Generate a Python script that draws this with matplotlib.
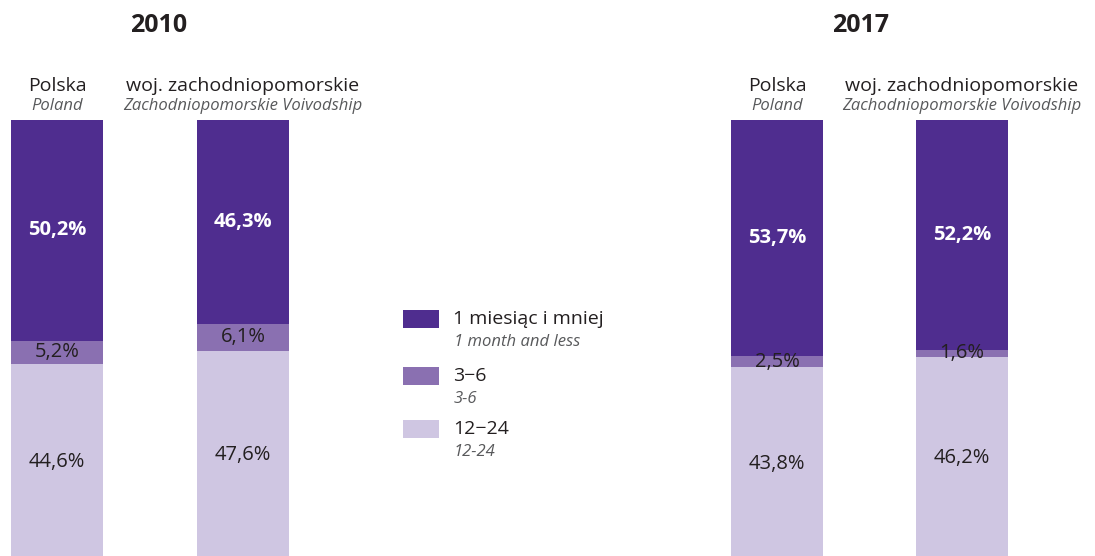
import matplotlib.pyplot as plt
import numpy as np

plt.rcParams['font.family'] = ['Open Sans', 'DejaVu Sans']

# data
years = ['2010', '2017']
regions_pl = ['Polska', 'woj. zachodniopomorskie']
regions_en = ['Poland', 'Zachodniopomorskie Voivodship']
cats_pl = ['1 miesiąc i mniej', '3−6', '12−24']
cats_en = ['1 month and less', '3-6', '12-24']
month1 = [50.2, 46.3, 53.7, 52.2]
m3_6 = [5.2, 6.1, 2.5, 1.6]
m12_24 = [44.6, 47.6, 43.8, 46.2]

colors = ['#4F2D8F', '#8A70B1', '#CFC6E2']
dark = '#231F20'
grey = '#58595B'

W, H = 1095, 556
fig = plt.figure(figsize=(W / 100, H / 100), dpi=100)

# layout (pixels)
bar_x = [57, 243, 777, 962]
bar_w = 92
top_px, bot_px = 120, 560
ax = fig.add_axes([0, (H - bot_px) / H, 1, (bot_px - top_px) / H])
ax.set_xlim(0, W)
ax.set_ylim(0, 100)
ax.axis('off')

series = [m12_24, m3_6, month1]
scol = [colors[2], colors[1], colors[0]]
bottom = np.zeros(4)
for vals, c in zip(series, scol):
    ax.bar(bar_x, vals, width=bar_w, bottom=bottom, color=c, linewidth=0)
    bottom += np.array(vals)

def fmt(v):
    return f'{v:.1f}%'.replace('.', ',')

for i, x in enumerate(bar_x):
    b = m12_24[i]
    ax.text(x, b / 2, fmt(m12_24[i]), ha='center', va='center', fontsize=14.5, color=dark)
    ax.text(x, b + m3_6[i] / 2, fmt(m3_6[i]), ha='center', va='center', fontsize=14.5, color=dark)
    ax.text(x, b + m3_6[i] + month1[i] / 2, fmt(month1[i]), ha='center', va='center',
            fontsize=14.5, color='white', fontweight='bold')

def ftext(x, y, s, **kw):
    fig.text(x / W, 1 - y / H, s, **kw)

for j, yr in enumerate(years):
    ftext([159, 861][j], 25, yr, ha='center', va='center', fontsize=18, fontweight='bold', color=dark)
    for k in range(2):
        x = bar_x[2 * j + k]
        ftext(x, 86, regions_pl[k], ha='center', va='center', fontsize=14, color=dark)
        ftext(x, 106, regions_en[k], ha='center', va='center', fontsize=12,
              style='italic', color=grey)

# legend
leg_y = [319, 376, 429]
for c, y, tp, te in zip(colors, leg_y, cats_pl, cats_en):
    fig.patches.append(plt.Rectangle((403 / W, 1 - (y + 9) / H), 36 / W, 18 / H,
                                     transform=fig.transFigure, color=c, linewidth=0))
    ftext(453, y, tp, ha='left', va='center', fontsize=14, color=dark)
    ftext(454, y + 23, te, ha='left', va='center', fontsize=12, style='italic', color=grey)

fig.savefig('out.png', dpi=100)
